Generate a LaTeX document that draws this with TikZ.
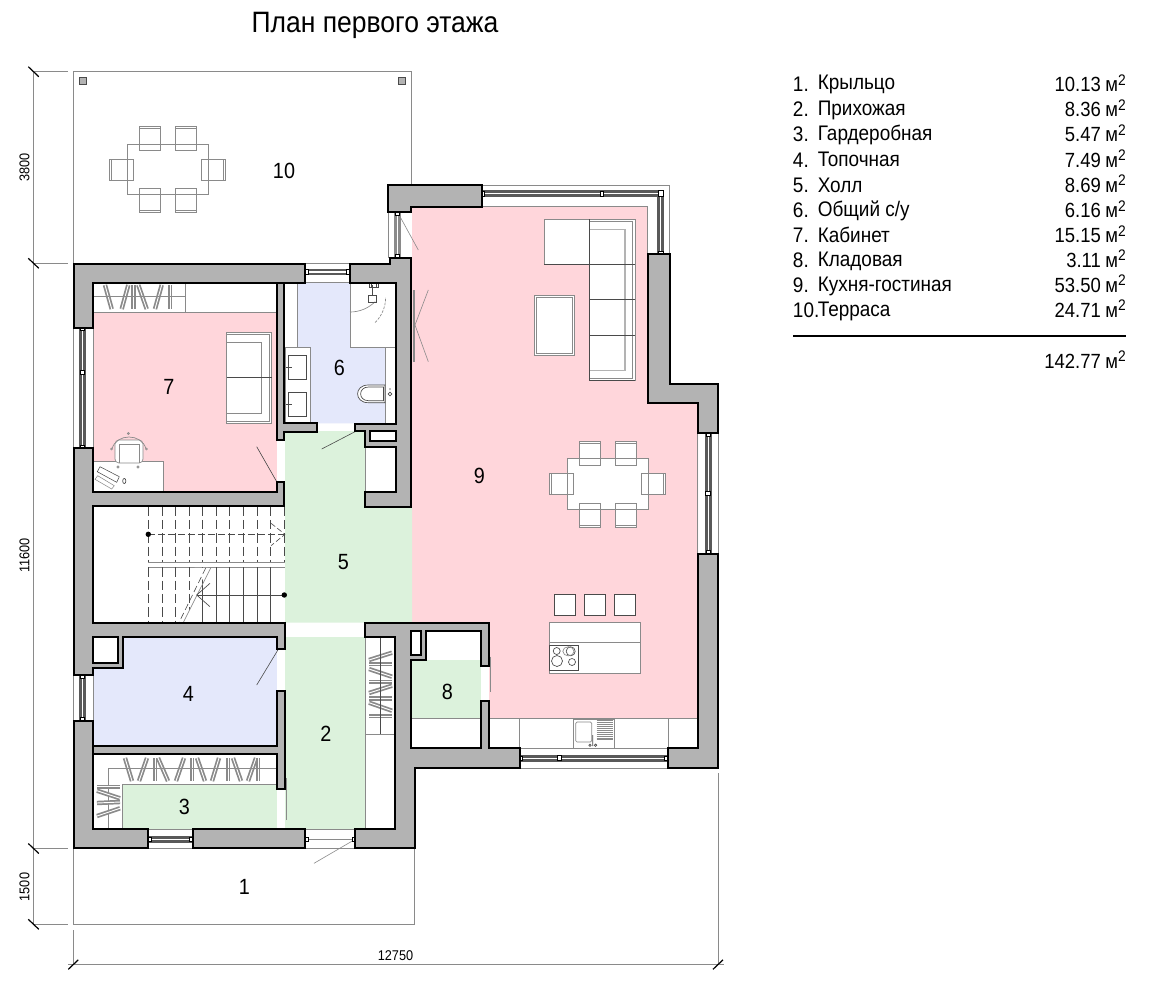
\documentclass[tikz,border=0pt]{standalone}
\usepackage{fontspec}
\setmainfont{Liberation Sans}[FakeStretch=0.9]
\definecolor{wallg}{HTML}{B3B3B3}
\definecolor{greyl}{HTML}{8A8A8A}
\definecolor{pinkf}{HTML}{FFD6DB}
\definecolor{greenf}{HTML}{DCF2DC}
\definecolor{lavf}{HTML}{E4E8FB}
\definecolor{darkl}{HTML}{4A4A4A}
\newcommand\sqm{\hspace{.22em}м\raisebox{5pt}{\fontsize{11.5}{12}\selectfont 2}}
% chairs: x,y of upper-left corner
\newcommand\chairN[2]{\draw[furn] (#1,#2) rectangle +(21,24); \draw[gl,line width=.3pt] (#1,#2+2.2) -- +(21,0);}
\newcommand\chairS[2]{\draw[furn] (#1,#2) rectangle +(21,24); \draw[gl,line width=.3pt] (#1,#2+21.8) -- +(21,0);}
\newcommand\chairW[2]{\draw[furn] (#1,#2) rectangle +(24,21); \draw[gl,line width=.3pt] (#1+2.2,#2) -- +(0,21);}
\newcommand\chairE[2]{\draw[furn] (#1,#2) rectangle +(24,21); \draw[gl,line width=.3pt] (#1+21.8,#2) -- +(0,21);}
\tikzset{
  x=.75pt,y=-.75pt,
  wall/.style={fill=wallg,draw=black,line width=1.5pt,line join=miter},
  hole/.style={fill=white,draw=black,line width=1.5pt},
  furn/.style={fill=white,draw=greyl,line width=.5pt},
  gl/.style={draw=greyl,line width=.5pt},
  dk/.style={draw=darkl,line width=.5pt},
  leaf/.style={draw=darkl,line width=.45pt},
  win/.style={draw=black!65,line width=2pt,double=white,double distance=.9pt},
  wing/.style={draw=greyl,line width=2.2pt,double=white,double distance=1.4pt},
  post/.style={fill=white,draw=black,line width=.5pt},
  hanger/.style={draw=greyl,line width=1.3pt,double=white,double distance=.7pt},
  stairl/.style={draw=darkl,line width=.45pt,dashed,dash pattern=on 7pt off 3pt},
  room/.style={inner sep=0pt,font=\fontsize{16.5}{18}\selectfont},
  dim/.style={inner sep=0pt,font=\fontsize{10.6}{12}\selectfont},
  listl/.style={inner sep=0pt,anchor=base west,font=\fontsize{15.8}{18}\selectfont},
  listr/.style={inner sep=0pt,anchor=base east,font=\fontsize{15.4}{18}\selectfont},
  tick/.style={draw=black,line width=.9pt},
  dimline/.style={draw=greyl,line width=.6pt},
}
\begin{document}
\begin{tikzpicture}
\useasboundingbox (0,0) rectangle (1160,986);
\fill[white] (0,0) rectangle (1160,986);
% ---- floors
\fill[pinkf] (412,207)--(647.7,207)--(647.7,403)--(698,403)--(698,718)--(489,718)--(489,622)--(412,622)--cycle;
\fill[greenf] (285,431)--(365,431)--(365,507)--(412,507)--(412,622.7)--(285,622.7)--cycle;
\fill[greenf] (285,637)--(365,637)--(365,829)--(285,829)--cycle;
\fill[greenf] (411,660)--(481,660)--(481,718)--(411,718)--cycle;
\fill[greenf] (122.7,784)--(277.3,784)--(277.3,829)--(122.7,829)--cycle;
\fill[lavf] (93,637)--(277.3,637)--(277.3,746)--(93,746)--cycle;
\fill[pinkf] (93,312.3)--(276.5,312.3)--(276.5,491)--(93,491)--cycle;
\fill[lavf] (297.7,282)--(350,282)--(350,347.7)--(385.7,347.7)--(385.7,423.3)--(310,423.3)--(310,347.7)--(297.7,347.7)--cycle;
% ---- outlines of terrace, porch, dimensions
\draw[gl] (73.3,263)--(73.3,71.7)--(411,71.7)--(411,185);
\draw[gl] (73.3,848.5)--(73.3,924.3)--(414.3,924.3)--(414.3,848.5);
\fill[wallg] (79.3,77.3) rectangle (86.7,84);
\draw[darkl,line width=.6pt] (79.3,77.3) rectangle (86.7,84);
\fill[wallg] (398.3,77.3) rectangle (405.7,84);
\draw[darkl,line width=.6pt] (398.3,77.3) rectangle (405.7,84);
\coordinate (dt) at (33.3,71.7);
\coordinate (d1) at (33.3,263.3);
\coordinate (d2) at (33.3,848.5);
\coordinate (d3) at (33.3,924.3);
\draw[dimline] (dt)--(d1)--(d2)--(d3);
\draw[dimline] (dt)--+(35,0) (d1)--+(35,0) (d2)--+(35,0) (d3)--+(35,0);
\foreach \p in {dt,d1,d2,d3}{\draw[tick] (\p)++(-5,-5)--+(10.5,10);}
\coordinate (bl) at (73.3,964.3);
\coordinate (br) at (718,964.3);
\draw[dimline] (68,964.3)--(724,964.3);
\draw[dimline] (73.3,930)--(bl) (718,773)--(br);
\draw[tick] (bl)++(-5,5)--+(10,-9.5);
\draw[tick] (br)++(-5,5)--+(10,-9.5);
\node[dim,rotate=90] (dima) at (24.5,167.5) {3800};
\node[dim,rotate=90] (dimb) at (24.5,555.5) {11600};
\node[dim,rotate=90] (dimc) at (24.5,887) {1500};
\node[dim] (dimd) at (395.5,956) {12750};
% ---- terrace furniture
\chairN{139.3}{126} \chairN{175}{126} \chairS{139.3}{188.3} \chairS{175}{188.3}
\chairW{109.3}{159} \chairE{201.7}{159}
\draw[gl] (127.3,144) rectangle (208.3,194.3);
% ---- dining
\fill[white] (567.3,458.3) rectangle (648.3,509.3);
\chairN{579.3}{441} \chairN{615}{441} \chairS{579.3}{503.3} \chairS{615}{503.3}
\chairW{549.3}{473.3} \chairE{641.7}{473.3}
\draw[gl] (567.3,458.3) rectangle (648.3,509.3);
% ---- stools and island
\foreach \x in {554.3,584.3,614.3}{\draw[fill=white,draw=darkl,line width=.6pt] (\x,594.7) rectangle +(21,21);}
\draw[furn] (549.3,622.7) rectangle (640.7,673.3);
\draw[gl] (549.3,642.7)--(640.7,642.7);
\draw[dk] (549.3,645) rectangle (578.7,670.7);
\draw[dk] (556.7,651) circle (3.5) (570.7,651.3) circle (4.5) (557,661) circle (5.5) (572,662) circle (3.5);
\draw[gl] (568.4,651.3) ellipse (5.6 and 4.6);
% ---- kitchen counter
\fill[white] (489,718) rectangle (698,748);
\draw[gl] (481,718)--(698,718) (411,718)--(481,718);
\draw[gl] (519.3,718)--(519.3,748) (668.3,718)--(668.3,748);
\draw[furn] (573.3,719.3) rectangle (614,748.3);
\draw[gl,rounded corners=1pt] (575.7,722) rectangle (591.7,742);
\foreach \y in {720.7,722.6,...,740.5}{\draw[greyl,line width=.4pt] (596.7,\y)--(612.7,\y);}
\draw[darkl,line width=.5pt] (592.8,735)--(592.8,746) (590,745.2) circle (1.2) (595.6,745.2) circle (1.2);
% ---- sofa and coffee table in 9
\draw[furn] (544,219.3) rectangle (589.3,264.3);
\draw[furn] (589.3,219.3) rectangle (635,380.7);
\draw[gl] (589.3,221.5)--(632.8,221.5)--(632.8,378.5)--(589.3,378.5);
\draw[draw=wallg,line width=1pt] (589.3,229.3)--(625,229.3)--(625,370.7)--(589.3,370.7);
\draw[dk,line width=.6pt] (544,264.3)--(635,264.3) (589.3,299.7)--(635,299.7) (589.3,335)--(635,335) (589.3,219.3)--(589.3,380.7)--(635,380.7);
\draw[furn] (534,295.7) rectangle (574.3,355.7);
\draw[gl] (536.4,297.8) rectangle (572.4,353.5);
% ---- left of 9 door marks
\draw[draw=greyl,line width=1.4pt] (413.8,290)--(413.8,361.7);
\draw[leaf,draw=greyl] (415,325)--(428.3,290) (415,325)--(428.3,361.7);
\draw[leaf,draw=greyl] (397.5,212)--(418.3,250);
% ---- cabinet furniture
\fill[white] (93,282.5) rectangle (276.5,312.3);
\draw[gl] (93,312.3)--(276.5,312.3);
\draw[gl] (185,282.5)--(185,312.3);
\foreach \a/\b in {105/111.7,128.3/121.7,133.3/133.3,138.3/146.7,161.7/155,170/170}{\draw[hanger] (\a,285)--(\b,309);}
\draw[gl] (93,296.7)--(185,296.7);
\draw[furn] (226.7,332.3) rectangle (271.7,423.3);
\draw[gl] (226.7,334.7)--(269.5,334.7)--(269.5,421)--(226.7,421);
\draw[furn,line width=.7pt] (226.7,342.3) rectangle (261.7,413.3);
\draw[dk] (226.7,377.3)--(271.7,377.3);
\fill[white] (93,461) rectangle (163.3,491);
\draw[gl] (93,461)--(163.3,461)--(163.3,491);
\draw[furn,line width=.4pt] (97.7,475.7)--(114.3,485.7)--(111.7,489)--(95,479.3)--cycle;
\draw[furn,line width=.4pt,draw=darkl] (100,466.7)--(119.3,476.7)--(116.7,482.3)--(97.3,471.7)--cycle;
\draw[dk] (124.3,481) ellipse (1.6 and 2.6);
\draw[furn,rounded corners=3pt] (115,440) rectangle (143,463);
\draw[gl] (119,444)--(119,463) (139,444)--(139,463) (119,444)--(139,444);
\draw[gl] (112,449) .. controls (116,433) and (142,433) .. (146,449);
\draw[gl] (128.3,433.5) circle (1) (111.5,449) circle (1) (146.5,449) circle (1) (118,467) circle (1.2) (138,467) circle (1.2);
% ---- bathroom
\draw[gl] (297.7,282.5)--(297.7,347.7);
\draw[furn] (285,347.7) rectangle (310,422.5);
\draw[dk] (288.3,355) rectangle (306,379) (288.3,392.7) rectangle (306,416.7);
\draw[dk] (286,367)--(292,367) (286,404.5)--(292,404.5);
\fill[white] (350,282.5) rectangle (396,347.7);
\fill[white] (385.7,347.7) rectangle (396,423);
\draw[gl] (350,282.5)--(350,347.7)--(395,347.7);
\draw[gl] (385.7,347.7)--(385.7,423);
\draw[gl] (350,312) arc (90:45:35.7);
\draw[gl,dashed,dash pattern=on 2pt off 1pt] (375.2,322.5) arc (45:0:35.7);
\draw[dk] (368.3,295) rectangle (376.7,302.7);
\draw[dk] (372.5,285)--(372.5,295) (369,283.5) rectangle (371,287) (376,283.5) rectangle (378,287) (371,287)--(376,287);
\draw[dk,fill=white] (385,385)--(368.3,385) .. controls (354,385) and (354,402.7) .. (368.3,402.7)--(385,402.7)--cycle;
\draw[dk] (383.5,387)--(368.5,387) .. controls (358,387) and (358,400.7) .. (368.5,400.7)--(383.5,400.7)--cycle;
\draw[dk] (390,394) circle (1.8) (390,388)--(390,390);
% ---- stairs
\foreach \i in {0,...,10}{\draw[stairl] (148.3+13.57*\i,506.5)--(148.3+13.57*\i,562.7);}
\draw[gl] (148.3,562.7)--(285,562.7) (148.3,567.3)--(285,567.3);
\foreach \i in {0,...,2}{\draw[stairl] (148.3+13.57*\i,567.3)--(148.3+13.57*\i,622.5);}
\draw[stairl] (189,567.3)--(189,610);
\foreach \i in {4,...,9}{\draw[dk] (148.3+13.57*\i,567.3)--(148.3+13.57*\i,622.5);}
\fill[white] (148.3+13.57*4-.6,567.8)--(150+13.57*4+4,567.8)--(150+13.57*4-10,596)--(150+13.57*4-10,568)--cycle;
\draw[gl] (211,567.3)--(183.3,622.5);
\draw[stairl,dash pattern=on 5pt off 2.5pt] (205.7,568)--(179,622.5);
\draw[stairl,dash pattern=on 5pt off 2.5pt] (148.3,534.3)--(285,534.3);
\draw[stairl,dash pattern=on 4pt off 2pt] (271,523.3)--(285,534.3)--(271,545.7);
\fill[black] (148.3,534.3) circle (2.7);
\draw[dk] (284.3,595)--(196.7,595);
\draw[dk] (210,583.3)--(196.7,595)--(210,606.7);
\fill[black] (284.3,595) circle (2.7);
% ---- room 4, 3, hall extras
\draw[gl] (365.7,431)--(365.7,507);
\fill[white] (366,637.3) rectangle (395,829);
\draw[gl] (365.7,637)--(365.7,829);
\draw[gl] (366,734.3)--(395,734.3);
\foreach \a/\b in {660/652.7,664/664,669/676.7,681.7/681.7,693/685.7,698.3/698.3,702.7/710.7,716/716}{\draw[hanger] (369,\a)--(392,\b);}
\draw[dk] (380.7,637)--(380.7,734.3);
\fill[white] (93,754) rectangle (277.3,784);
\fill[white] (93,754) rectangle (122.7,829);
\draw[gl] (122.7,829)--(122.7,784)--(277.3,784);
\foreach \a/\b in {125/132,147/139,155/155,158/168,184/176,192/192,197/205,219/212,228/228,233/241,256/248,258/258}{\draw[hanger] (\a,758)--(\b,781);}
\draw[gl] (108.3,829)--(108.3,768.3)--(277.3,768.3);
\draw[hanger] (97,786.7)--(120,786.7);
\draw[hanger] (97,790.7)--(120,798.3);
\draw[hanger] (97,803)--(120,802);
\draw[hanger] (97,816)--(120,808.3);
% ---- doors thin
\draw[gl] (286.7,778.3)--(286.7,820);
\draw[gl] (490.7,656.7)--(490.7,691.7);
\draw[leaf] (276.7,481.7)--(256.7,446.7);
\draw[leaf] (355,431.7)--(321.7,449);
\draw[leaf] (278.3,649.3)--(256.7,685);
\draw[leaf,draw=greyl] (354,840)--(314,863.3);
% ---- windows
\draw[gl] (93,328)--(93,448.3);
\draw[gl] (73.5,328)--(73.5,448.3);
\draw[win] (82.3,328)--(82.3,448.3);
\draw[post] (80,326.5) rectangle (84.6,330) (80,370.7) rectangle (84.6,374.7) (80,445) rectangle (84.6,448.3);
\draw[gl] (93,675)--(93,720.7);
\draw[gl] (73.5,675)--(73.5,720.7);
\draw[win] (82.3,675)--(82.3,720.7);
\draw[post] (80,675) rectangle (84.6,678.5) (80,717.5) rectangle (84.6,720.7);
\draw[gl] (305,263.5)--(350,263.5) (305,282.5)--(350,282.5);
\draw[win] (305,272)--(350,272);
\draw[post] (305,269.7) rectangle (308.5,274.3) (346.5,269.7) rectangle (350,274.3);
\draw[gl] (148.3,829.3)--(193.3,829.3) (148.3,848.5)--(193.3,848.5);
\draw[win] (148.3,839.3)--(193.3,839.3);
\draw[post] (148.3,837) rectangle (151.8,841.6) (189.8,837) rectangle (193.3,841.6);
\draw[gl] (305,829.3)--(355,829.3) (305,848.5)--(355,848.5);
\draw[gl] (305,839.3)--(355,839.3);
\draw[post] (305,837) rectangle (308,841.6) (352,837) rectangle (355,841.6);
\draw[gl] (519.5,748)--(667.7,748) (519.5,768)--(667.7,768);
\draw[win] (519.5,758.3)--(667.7,758.3);
\draw[post] (519.5,756) rectangle (522.5,760.6) (557.7,755.8) rectangle (560.9,760.8) (664.7,756) rectangle (667.7,760.6);
\draw[gl] (697.7,433)--(697.7,554) (718,433)--(718,554);
\draw[win] (708.3,433)--(708.3,554);
\draw[post] (706,433) rectangle (710.6,436.5) (705.8,491.5) rectangle (710.8,495) (706,550.5) rectangle (710.6,554);
\draw[gl] (481.7,185)--(669.5,185)--(669.5,254);
\draw[gl] (481.7,206.7)--(647.7,206.7)--(647.7,254);
\draw[win] (481.7,193.5)--(660.7,193.5)--(660.7,254);
\draw[post] (481.7,191) rectangle (484.7,196) (600,191) rectangle (603.3,196.5) (658,190.7) rectangle (663.4,196) (658,251) rectangle (663.4,254);
\draw[gl] (388.3,211.7)--(388.3,257.5) ;
\draw[wing] (397.5,211.7)--(397.5,257.5);
\draw[post] (395.3,212) rectangle (399.7,215) (395.3,254.5) rectangle (399.7,257.5);
% ---- walls
\draw[wall] (73.5,263.5)--(305,263.5)--(305,282.5)--(93,282.5)--(93,328)--(73.5,328)--cycle;
\draw[wall] (350,263.5)--(390,263.5)--(390,257.5)--(411,257.5)--(411,507)--(365,507)--(365,492)--(396,492)--(396,447)--(365,447)--(365,431)--(355,431)--(355,423.5)--(396,423.5)--(396,282.5)--(350,282.5)--cycle;
\draw[hole] (370,431) rectangle (396,441);
\draw[wall] (276.5,282.5)--(284,282.5)--(284,423)--(317,423)--(317,431.5)--(284,431.5)--(284,440)--(276.5,440)--cycle;
\draw[wall] (73.5,448.3)--(93,448.3)--(93,491.7)--(276.5,491.7)--(276.5,481.7)--(284,481.7)--(284,506)--(93,506)--(93,622.7)--(284.5,622.7)--(284.5,649.3)--(276.5,649.3)--(276.5,637.3)--(123.3,637.3)--(123.3,668.3)--(93,668.3)--(93,675)--(73.5,675)--cycle;
\draw[hole] (93,637.3) rectangle (117.5,662.5);
\draw[wall] (93,746)--(277.3,746)--(277.3,690.7)--(284.7,690.7)--(284.7,789.3)--(277.3,789.3)--(277.3,754)--(93,754)--cycle;
\draw[wall] (73.5,720.7)--(93.3,720.7)--(93.3,829.3)--(148.3,829.3)--(148.3,848.3)--(73.5,848.3)--cycle;
\draw[wall] (193.3,829.3) rectangle (305,848.3);
\draw[wall] (365,622.7)--(489.3,622.7)--(489.3,666)--(481,666)--(481,631)--(426,631)--(426,660)--(411,660)--(411,748)--(481,748)--(481,700.7)--(489.3,700.7)--(489.3,748)--(519.5,748)--(519.5,768)--(415,768)--(415,848.3)--(355,848.3)--(355,829.3)--(395,829.3)--(395,637.3)--(365,637.3)--cycle;
\draw[hole] (411,631) rectangle (420.7,655);
\draw[wall] (388.3,185)--(481.7,185)--(481.7,206.7)--(410.7,206.7)--(410.7,211.7)--(388.3,211.7)--cycle;
\draw[wall] (647.7,254)--(670,254)--(670,384)--(717.7,384)--(717.7,433.3)--(698.3,433.3)--(698.3,403.3)--(647.7,403.3)--cycle;
\draw[wall] (697.7,554)--(718.3,554)--(718.3,768.3)--(667.7,768.3)--(667.7,748.3)--(697.7,748.3)--cycle;
% ---- room numbers
\node[room] (r10) at (284,171) {10};
\node[room] (r7) at (169,386.7) {7};
\node[room] (r6) at (339.5,368.3) {6};
\node[room] (r9) at (479.3,475.7) {9};
\node[room] (r5) at (343.3,561.7) {5};
\node[room] (r4) at (188.3,694.3) {4};
\node[room] (r2) at (326,734.3) {2};
\node[room] (r3) at (184.3,806.7) {3};
\node[room] (r8) at (447.3,692.3) {8};
\node[room] (r1) at (244.3,886.7) {1};
% ---- title and list
\node[inner sep=0pt,anchor=base,font=\fontsize{22.1}{26}\selectfont] (title) at (375,32.7) {План первого этажа};
\foreach \n/\t/\a/\yl/\yn/\yr in {
 1./Крыльцо/10.13/89.3/91/91.7,
 2./Прихожая/8.36/115/116/116.7,
 3./Гардеробная/5.47/140/141.7/141.7,
 4./Топочная/7.49/166.7/167.3/167.3,
 5./Холл/8.69/192.3/192.3/192.3,
 6./Общий с\slash у/6.16/216.7/217.7/217.7,
 7./Кабинет/15.15/242.7/242.7/242.7,
 8./Кладовая/3.11/266.7/267.3/267.3,
 9./Кухня-гостиная/53.50/291.7/292.3/292.3,
 10./Терраса/24.71/316.7/317.3/317.3}{
  \node[listl] (ln\n) at (792.7,\yn) {\n};
  \node[listl] (lt\n) at (817.5,\yl) {\t};
  \node[listr] (la\n) at (1126,\yr) {\a\sqm};
}
\draw[draw=black,line width=1.2pt] (793,336)--(1126,336);
\node[listr] (total) at (1126,368.3) {142.77\sqm};
\end{tikzpicture}
\end{document}
